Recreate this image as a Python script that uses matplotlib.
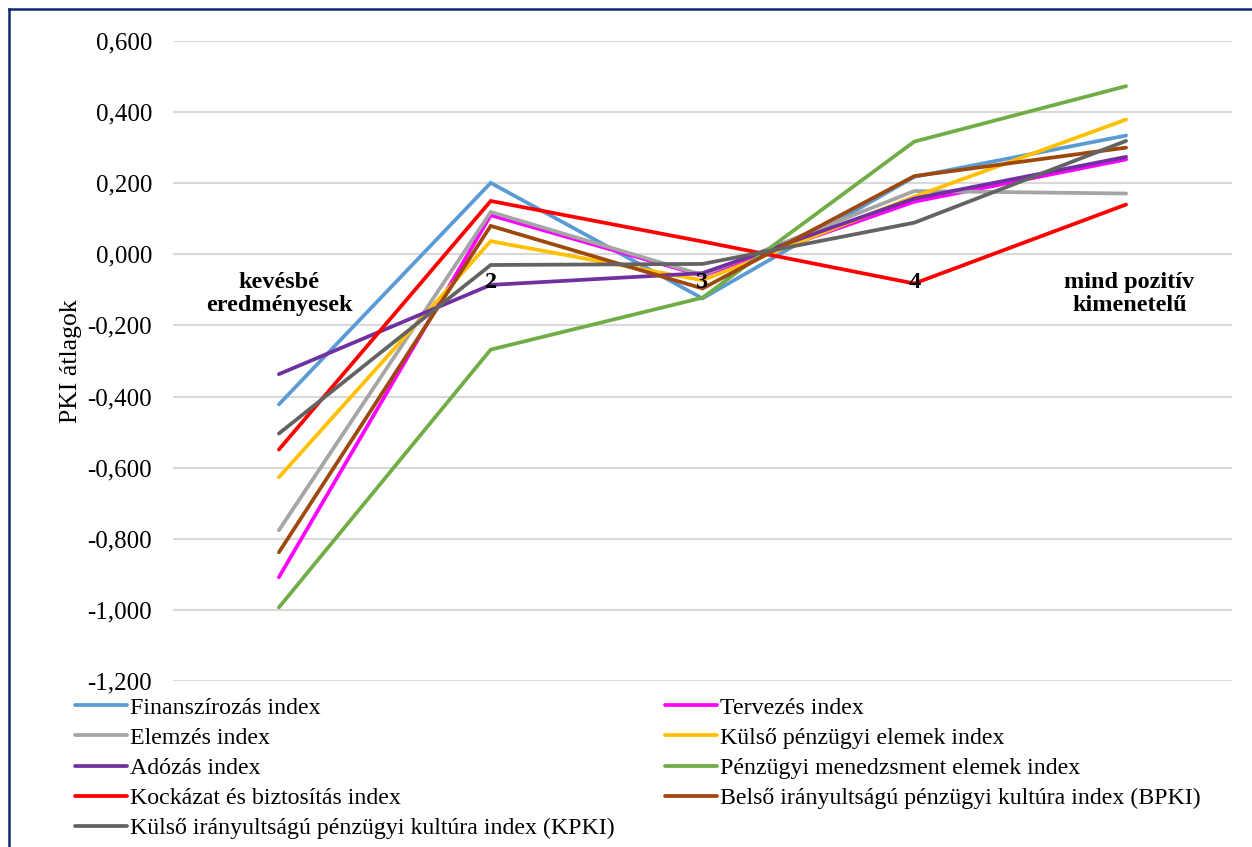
import matplotlib
matplotlib.use("Agg")
import matplotlib.pyplot as plt
from matplotlib.lines import Line2D
from matplotlib.ticker import FuncFormatter, MultipleLocator

plt.rcParams['font.family'] = ['Liberation Serif', 'DejaVu Serif']

# csoportok (kategóriák) felirata
categories = ["kevésbé\neredményesek", "2", "3", "4", "mind pozitív\nkimenetelű"]

# PKI átlagok csoportonként
finanszirozas = [-0.422, 0.201, -0.124, 0.218, 0.334]
tervezes = [-0.908, 0.110, -0.060, 0.148, 0.267]
elemzes = [-0.776, 0.119, -0.058, 0.178, 0.171]
kulso_penzugyi = [-0.627, 0.037, -0.073, 0.162, 0.379]
adozas = [-0.337, -0.086, -0.053, 0.157, 0.274]
menedzsment = [-0.993, -0.268, -0.122, 0.317, 0.473]
kockazat = [-0.549, 0.150, 0.036, -0.082, 0.140]
bpki = [-0.838, 0.080, -0.096, 0.220, 0.300]
kpki = [-0.504, -0.030, -0.027, 0.089, 0.319]

series_names = [
    "Finanszírozás index",
    "Tervezés index",
    "Elemzés index",
    "Külső pénzügyi elemek index",
    "Adózás index",
    "Pénzügyi menedzsment elemek index",
    "Kockázat és biztosítás index",
    "Belső irányultságú pénzügyi kultúra index (BPKI)",
    "Külső irányultságú pénzügyi kultúra index (KPKI)",
]
series_values = [finanszirozas, tervezes, elemzes, kulso_penzugyi, adozas,
                 menedzsment, kockazat, bpki, kpki]
colors = ["#5B9BD5", "#FF00FF", "#A5A5A5", "#FFC000", "#7030A0",
          "#70AD47", "#FF0000", "#9E480E", "#636363"]

FS = 17.5

fig = plt.figure(figsize=(12.52, 8.47), dpi=100)
ax = fig.add_axes([0.1382, 0.196, 0.8458, 0.7556])

x = list(range(len(categories)))
handles = []
for name, vals, c in zip(series_names, series_values, colors):
    h, = ax.plot(x, vals, color=c, lw=2.7, solid_capstyle='round',
                 solid_joinstyle='miter', label=name, zorder=3)
    handles.append(h)

ax.set_xlim(-0.5, len(categories) - 0.5)
ax.set_ylim(-1.2, 0.6)
ax.yaxis.set_major_locator(MultipleLocator(0.2))
ax.yaxis.set_major_formatter(FuncFormatter(lambda v, p: f"{v:.3f}".replace('.', ',')))
ax.set_xticks([])
ax.tick_params(axis='y', length=0, pad=15, labelsize=18)
ax.grid(axis='y', color='#D9D9D9', lw=1.5, zorder=0)
for s in ax.spines.values():
    s.set_visible(False)
ax.set_ylabel("PKI átlagok", fontsize=18.5, labelpad=4)

# csoportfeliratok a diagramterületen belül
offsets = [0, 0, 0, 0, 0.015]
for i, lab in enumerate(categories):
    ax.text(i + offsets[i], -0.05, lab, ha='center', va='top',
            fontsize=FS, fontweight='bold', linespacing=1.12, zorder=4)

# jelmagyarázat két oszlopban
leg_kw = dict(frameon=False, fontsize=17.2, handlelength=2.18,
              handletextpad=0.12, labelspacing=0.35, borderpad=0,
              borderaxespad=0, loc='upper left')
left_idx = [0, 2, 4, 6, 8]
right_idx = [1, 3, 5, 7]
fig.legend([handles[i] for i in left_idx], [series_names[i] for i in left_idx],
           bbox_to_anchor=(75 / 1252, 1 - 697 / 847), **leg_kw)
fig.legend([handles[i] for i in right_idx], [series_names[i] for i in right_idx],
           bbox_to_anchor=(665 / 1252, 1 - 697 / 847), **leg_kw)

# keret
bx, by = 9 / 1252, 1 - 9 / 847
fig.add_artist(Line2D([bx, bx], [0, by], color='#0D2B6B', lw=1.8,
                      transform=fig.transFigure))
fig.add_artist(Line2D([bx, 1], [by, by], color='#0D2B6B', lw=1.8,
                      transform=fig.transFigure))

fig.savefig("out.png", dpi=100)
